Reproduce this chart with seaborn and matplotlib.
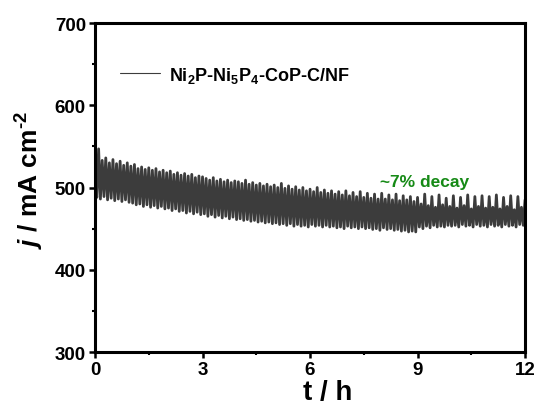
import numpy as np
import pandas as pd
import matplotlib
matplotlib.use("Agg")
import matplotlib.pyplot as plt
import seaborn as sns

# Current density trace (mA cm^-2), 0.05 h spacing (alternating high/low of the noisy band)
hour0 = [505, 488, 547, 486, 533, 489, 536, 485, 530, 487, 534, 484, 529, 486, 532, 483, 527, 485, 530, 482]
hour1 = [526, 481, 528, 479, 523, 480, 525, 477, 522, 479, 524, 476, 521, 478, 523, 475, 519, 477, 521, 474]
hour2 = [518, 475, 520, 472, 516, 474, 518, 471, 515, 472, 517, 469, 514, 471, 516, 468, 512, 470, 514, 467]
hour3 = [513, 468, 511, 465, 509, 467, 512, 464, 508, 466, 510, 463, 507, 465, 509, 462, 506, 464, 508, 461]
hour4 = [507, 462, 505, 460, 509, 461, 504, 459, 506, 460, 503, 458, 505, 459, 502, 457, 504, 458, 501, 456]
hour5 = [503, 457, 500, 455, 505, 456, 499, 454, 502, 456, 498, 453, 501, 455, 497, 453, 500, 454, 496, 452]
hour6 = [498, 455, 495, 453, 500, 454, 494, 452, 497, 454, 493, 452, 496, 453, 492, 451, 495, 452, 491, 450]
hour7 = [496, 453, 490, 451, 494, 452, 489, 450, 495, 452, 488, 450, 493, 451, 487, 449, 492, 450, 486, 448]
hour8 = [493, 451, 486, 449, 491, 450, 485, 448, 492, 449, 484, 447, 490, 448, 485, 446, 489, 447, 483, 446]
hour9 = [488, 452, 480, 450, 492, 453, 478, 451, 489, 454, 476, 452, 491, 453, 479, 452, 487, 454, 477, 453]
hour10 = [490, 454, 475, 452, 488, 455, 478, 453, 491, 454, 474, 452, 489, 455, 477, 453, 490, 454, 475, 452]
hour11 = [489, 455, 476, 453, 491, 454, 474, 452, 488, 455, 477, 453, 490, 454, 473, 452, 489, 455, 476, 454]
hour12 = [485]

series_label = "Ni$_2$P-Ni$_5$P$_4$-CoP-C/NF"
annotation = "~7% decay"
x_ticks = [0, 3, 6, 9, 12]
y_ticks = [300, 400, 500, 600, 700]

current = (hour0 + hour1 + hour2 + hour3 + hour4 + hour5 + hour6 + hour7
           + hour8 + hour9 + hour10 + hour11 + hour12)
time_h = np.linspace(0, 12, len(current))
df = pd.DataFrame({"t": time_h, "j": current, "s": series_label})

sns.set_style("ticks")
plt.rcParams["font.family"] = ["Liberation Sans", "DejaVu Sans"]
plt.rcParams["font.weight"] = "bold"
plt.rcParams["text.color"] = "black"
plt.rcParams["axes.labelcolor"] = "black"
plt.rcParams["xtick.color"] = "black"
plt.rcParams["ytick.color"] = "black"
plt.rcParams["axes.edgecolor"] = "black"
plt.rcParams["mathtext.fontset"] = "custom"
plt.rcParams["mathtext.rm"] = "Liberation Sans:bold"
plt.rcParams["mathtext.bf"] = "Liberation Sans:bold"
plt.rcParams["mathtext.it"] = "Liberation Sans:italic:bold"

fig = plt.figure(figsize=(5.39, 4.10), dpi=100)
ax = fig.add_axes([0.1763, 0.139, 0.7978, 0.8024])

sns.lineplot(data=df, x="t", y="j", hue="s", palette=["#3c3c3c"], estimator=None,
             linewidth=2.0, ax=ax)

ax.set_xlim(0, 12)
ax.set_ylim(300, 700)
ax.set_xticks(x_ticks)
ax.set_yticks(y_ticks)
ax.set_xticks([1.5, 4.5, 7.5, 10.5], minor=True)
ax.set_yticks([350, 450, 550, 650], minor=True)
ax.tick_params(which="major", direction="out", length=4.5, width=1.8, labelsize=13.5)
ax.tick_params(axis="x", which="major", pad=2)
ax.tick_params(axis="y", which="major", pad=2)
ax.tick_params(which="minor", direction="out", length=2.5, width=1.5)
for lab in ax.get_xticklabels() + ax.get_yticklabels():
    lab.set_fontweight("bold")
for sp in ax.spines.values():
    sp.set_linewidth(2.2)
    sp.set_visible(True)

ax.set_xlabel("t / h", fontsize=20, fontweight="bold")
ax.xaxis.label.set_va("top")
ax.xaxis.set_label_coords(0.54, -0.082)
ax.set_ylabel("$j$ / mA cm$^{\\text{-}2}$", fontsize=19, fontweight="bold")
ax.yaxis.set_label_coords(-0.151, 0.526)
ax.yaxis.label.set_va("center")

leg = ax.legend(loc="center left", bbox_to_anchor=(0.042, 0.843), frameon=False,
                handlelength=2.2, handletextpad=0.5, borderaxespad=0,
                prop={"weight": "bold", "size": 13})
for h in leg.get_lines():
    h.set_linewidth(0.8)

ax.text(7.95, 507, annotation, color="#168a16", fontsize=12.5, fontweight="bold",
        ha="left", va="center")

fig.savefig("out.png", dpi=100)
